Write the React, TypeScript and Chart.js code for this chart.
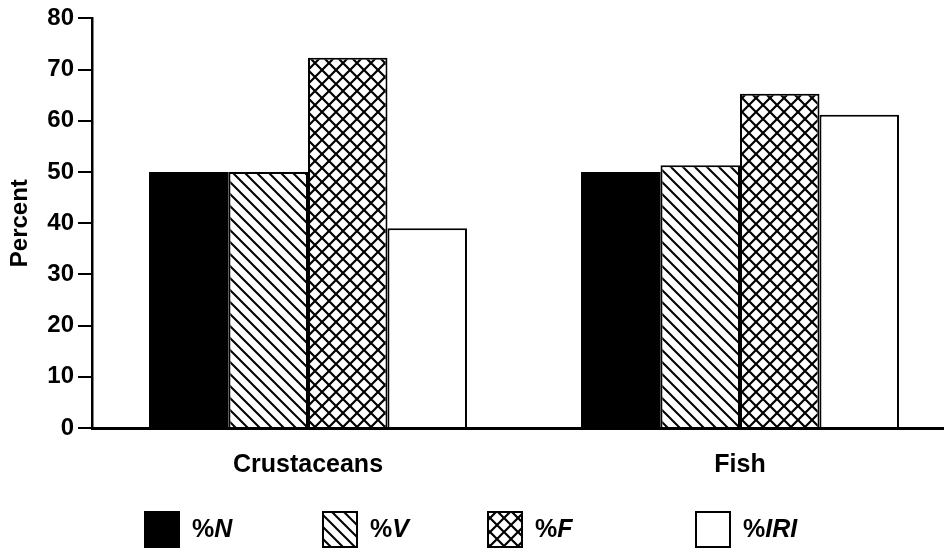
import React, { useEffect, useRef } from "react";
import { Chart, registerables } from "chart.js";

Chart.register(...registerables);

const categories = ["Crustaceans", "Fish"];
const seriesLabels = ["%N", "%V", "%F", "%IRI"];
const pctN = [50, 50];
const pctV = [50, 51.3];
const pctF = [72.3, 65.3];
const pctIRI = [39, 61.2];
const yMin = 0;
const yMax = 80;
const yStep = 10;

const FONT = '"Liberation Sans", Arial, Helvetica, sans-serif';

function makeHatch(): CanvasPattern | string {
  const s = 12;
  const c = document.createElement("canvas");
  c.width = s;
  c.height = s;
  const x = c.getContext("2d");
  if (!x) return "#fff";
  x.fillStyle = "#fff";
  x.fillRect(0, 0, s, s);
  x.strokeStyle = "#000";
  x.lineWidth = 2;
  x.beginPath();
  x.moveTo(-2, -2);
  x.lineTo(s + 2, s + 2);
  x.moveTo(-2, s - 2);
  x.lineTo(2, s + 2);
  x.moveTo(s - 2, -2);
  x.lineTo(s + 2, 2);
  x.stroke();
  return x.createPattern(c, "repeat") || "#fff";
}

function makeCross(): CanvasPattern | string {
  const s = 14;
  const c = document.createElement("canvas");
  c.width = s;
  c.height = s;
  const x = c.getContext("2d");
  if (!x) return "#fff";
  x.fillStyle = "#fff";
  x.fillRect(0, 0, s, s);
  x.strokeStyle = "#000";
  x.lineWidth = 2.2;
  x.beginPath();
  x.moveTo(-2, -2);
  x.lineTo(s + 2, s + 2);
  x.moveTo(s + 2, -2);
  x.lineTo(-2, s + 2);
  x.stroke();
  return x.createPattern(c, "repeat") || "#fff";
}

const legendPlugin = {
  id: "customLegend",
  afterDraw(chart: any) {
    const ctx = chart.ctx;
    const area = chart.chartArea;
    const xs = [144, 322, 487, 695];
    const boxW = 36;
    const boxH = 37;
    const top = area.bottom + 83;
    ctx.save();
    chart.data.datasets.forEach((ds: any, i: number) => {
      const x0 = xs[i];
      ctx.fillStyle = ds.backgroundColor;
      ctx.fillRect(x0, top, boxW, boxH);
      ctx.strokeStyle = "#000";
      ctx.lineWidth = 2;
      ctx.strokeRect(x0 + 1, top + 1, boxW - 2, boxH - 2);
      const label: string = ds.label;
      const pct = label.slice(0, 1);
      const rest = label.slice(1);
      const ty = top + boxH / 2 + 1;
      ctx.textBaseline = "middle";
      ctx.textAlign = "left";
      ctx.fillStyle = "#000";
      ctx.font = `bold 25px ${FONT}`;
      let tx = x0 + boxW + 12;
      ctx.fillText(pct, tx, ty);
      tx += ctx.measureText(pct).width;
      ctx.font = `italic bold 25px ${FONT}`;
      ctx.fillText(rest, tx, ty);
    });
    ctx.restore();
  },
};

export default function App() {
  const ref = useRef<HTMLCanvasElement | null>(null);

  useEffect(() => {
    if (!ref.current) return;
    const hatch = makeHatch();
    const cross = makeCross();
    const common = {
      borderColor: "#000",
      borderSkipped: "bottom",
      barPercentage: 1,
      categoryPercentage: 0.736,
    };
    const chart = new Chart(ref.current, {
      type: "bar",
      data: {
        labels: categories,
        datasets: [
          { ...common, label: seriesLabels[0], data: pctN, backgroundColor: "#000", borderWidth: 0 },
          { ...common, label: seriesLabels[1], data: pctV, backgroundColor: hatch, borderWidth: 2 },
          { ...common, label: seriesLabels[2], data: pctF, backgroundColor: cross, borderWidth: 2 },
          { ...common, label: seriesLabels[3], data: pctIRI, backgroundColor: "#fff", borderWidth: 2 },
        ] as any,
      },
      options: {
        animation: false,
        responsive: true,
        maintainAspectRatio: false,
        layout: { padding: { top: 15, right: 4, left: 0, bottom: 0 } },
        plugins: {
          legend: { display: false },
          tooltip: { enabled: false },
          title: { display: false },
        },
        scales: {
          x: {
            grid: { display: false },
            border: { display: true, color: "#000", width: 3 },
            ticks: {
              color: "#000",
              padding: 14,
              font: { family: FONT, size: 25, weight: "bold" },
            },
            afterFit: (scale: any) => {
              scale.height = 124;
            },
          },
          y: {
            min: yMin,
            max: yMax,
            grid: {
              drawOnChartArea: false,
              drawTicks: true,
              tickLength: 14,
              color: "#000",
              lineWidth: 2,
            },
            border: { display: true, color: "#000", width: 2.5 },
            ticks: {
              stepSize: yStep,
              color: "#000",
              padding: 4,
              font: { family: FONT, size: 24, weight: "bold" },
            },
            title: {
              display: true,
              text: "Percent",
              color: "#000",
              padding: { top: 6, bottom: 0 },
              font: { family: FONT, size: 24, weight: "bold" },
            },
            afterFit: (scale: any) => {
              scale.width = 92;
            },
          },
        },
      } as any,
      plugins: [legendPlugin],
    });
    return () => chart.destroy();
  }, []);

  return (
    <div
      style={{
        position: "absolute",
        left: 0,
        top: 0,
        width: 944,
        height: 552,
        overflow: "hidden",
        background: "#fff",
      }}
    >
      <div style={{ position: "relative", width: 960, height: 552 }}>
        <canvas ref={ref} />
      </div>
    </div>
  );
}
